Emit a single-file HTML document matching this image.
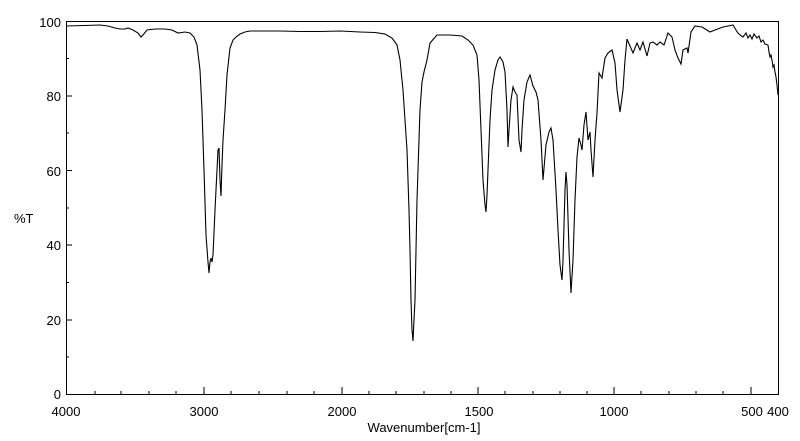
<!DOCTYPE html>
<html><head><meta charset="utf-8"><style>
html,body{margin:0;padding:0;background:#fff;}
svg{display:block;}
text{font-family:"Liberation Sans",sans-serif;font-size:13px;fill:#000;}
</style></head><body>
<svg width="800" height="441" viewBox="0 0 800 441">
<rect x="0" y="0" width="800" height="441" fill="#fff"/>
<path d="M66.5 394.5 V21.5 H778.5 V394.5 Z" fill="none" stroke="#000" stroke-width="1"/>
<g stroke="#000" stroke-width="1">
<line x1="66" y1="96" x2="72" y2="96"/><line x1="66" y1="170.5" x2="72" y2="170.5"/><line x1="66" y1="245" x2="72" y2="245"/><line x1="66" y1="320" x2="72" y2="320"/>
<line x1="66" y1="58.5" x2="69" y2="58.5"/><line x1="66" y1="133" x2="69" y2="133"/><line x1="66" y1="208" x2="69" y2="208"/><line x1="66" y1="282.5" x2="69" y2="282.5"/><line x1="66" y1="357" x2="69" y2="357"/>
<line x1="95" y1="394" x2="95" y2="391"/><line x1="121" y1="394" x2="121" y2="391"/><line x1="149" y1="394" x2="149" y2="391"/><line x1="176" y1="394" x2="176" y2="391"/>
<line x1="204" y1="394" x2="204" y2="387"/><line x1="231" y1="394" x2="231" y2="391"/><line x1="259" y1="394" x2="259" y2="391"/><line x1="287" y1="394" x2="287" y2="391"/><line x1="314" y1="394" x2="314" y2="391"/>
<line x1="342" y1="394" x2="342" y2="387"/><line x1="369" y1="394" x2="369" y2="391"/><line x1="396" y1="394" x2="396" y2="391"/><line x1="424" y1="394" x2="424" y2="391"/><line x1="451" y1="394" x2="451" y2="391"/>
<line x1="478" y1="394" x2="478" y2="387"/><line x1="505" y1="394" x2="505" y2="391"/><line x1="533" y1="394" x2="533" y2="391"/><line x1="560" y1="394" x2="560" y2="391"/><line x1="587" y1="394" x2="587" y2="391"/>
<line x1="614" y1="394" x2="614" y2="387"/><line x1="641" y1="394" x2="641" y2="391"/><line x1="669" y1="394" x2="669" y2="391"/><line x1="696" y1="394" x2="696" y2="391"/><line x1="723" y1="394" x2="723" y2="391"/>
<line x1="751" y1="394" x2="751" y2="387"/>
</g>
<text x="61" y="27" text-anchor="end">100</text>
<text x="61" y="101" text-anchor="end">80</text>
<text x="61" y="176" text-anchor="end">60</text>
<text x="61" y="250" text-anchor="end">40</text>
<text x="61" y="325" text-anchor="end">20</text>
<text x="61" y="399" text-anchor="end">0</text>
<text x="14" y="223">%T</text>
<text x="66" y="416" text-anchor="middle">4000</text>
<text x="204" y="416" text-anchor="middle">3000</text>
<text x="342" y="416" text-anchor="middle">2000</text>
<text x="479" y="416" text-anchor="middle">1500</text>
<text x="614" y="416" text-anchor="middle">1000</text>
<text x="752" y="416" text-anchor="middle">500</text>
<text x="778" y="416" text-anchor="middle">400</text>
<text x="424" y="432" text-anchor="middle">Wavenumber[cm-1]</text>
<polyline fill="none" stroke="#000" stroke-width="1.1" points="
66,26 85,25.5 100,25 108,26 115,28 120,29 125,29 128,28 133,30 138,33 141,37 143,35 147,30 155,29 165,29 172,30 178,33 185,32 190,33 194,37 197,45 200,70 202,110 204,170 206,235 208,262 209,273 210,262 211,258 212,262 213,255 215,210 217,170 218,150 219,148 220,180 221,196 222,165 223,140 225,110 227,75 230,48 233,40 236,37 240,34 245,32 250,31 260,31 280,31 300,31.5 320,31.5 340,31 360,32 375,32.5 385,34 392,38 397,45 400,60 403,90 405,120 407,150 409,210 410,250 411,300 412,330 413,341 414,320 415,300 416,250 417,200 419,140 420,110 422,82 424,72 427,60 430,43 437,35 450,35 462,36 468,40 473,45 477,55 479,80 481,130 483,180 485,205 486,212 487,195 488,170 490,120 492,90 495,70 498,60 500,57 503,62 505,72 507,110 508,147 509,130 511,100 513,87 515,92 517,95 519,140 521,152 522,130 524,100 527,82 530,75 533,86 536,92 538,100 541,140 543,180 546,145 549,132 551,128 553,140 556,190 558,230 560,265 562,280 563,260 565,190 566,172 567,185 569,250 571,293 573,260 575,200 577,157 579,138 581,145 582,150 584,125 586,112 588,140 590,132 591,150 593,177 595,140 597,113 599,73 602,78 605,58 608,53 612,50 615,63 617,90 620,112 623,90 625,60 627,39 630,46 633,53 637,43 640,50 643,42 647,56 650,43 653,42 657,45 660,42 664,45 668,33 672,37 675,50 678,58 681,64 683,50 687,48 688,53 691,32 695,26 702,27 710,32 715,30 723,27 728,26 733,25 736,30 738,33 740,35 743,37 746,33 748,38 750,35 752,39 754,34 757,38 759,36 761,42 763,40 765,44 768,45 769,52 770,57 771,55 772,60 773,67 774,65 775,72 776,77 777,85 778,95"/>
</svg>
</body></html>
